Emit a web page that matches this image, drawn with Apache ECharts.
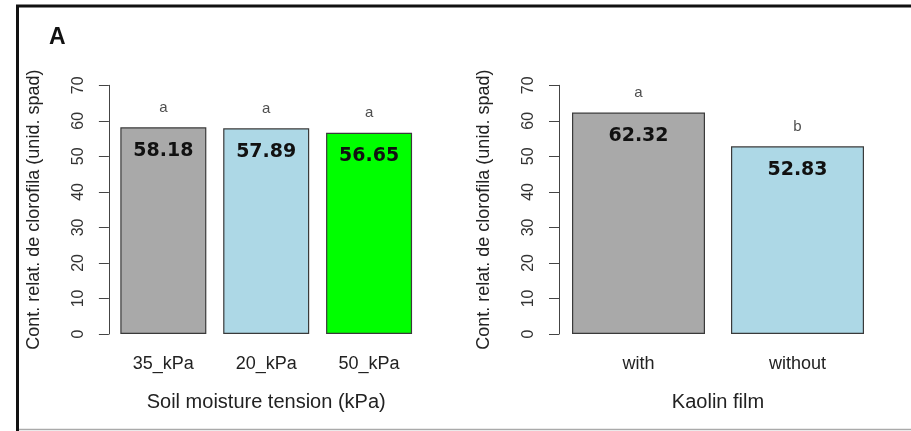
<!DOCTYPE html>
<html>
<head>
<meta charset="utf-8">
<script src="https://cdn.jsdelivr.net/npm/echarts@6/dist/echarts.min.js"></script>
<style>
	html, body { margin: 0; padding: 0; background: #fff; }
	#chart { width: 911px; height: 431px; }
</style>
</head>
<body>
<div id="chart"></div>
<script>
	// panel A, left: soil moisture tension
	var soilCats = ['35_kPa', '20_kPa', '50_kPa']
	var soilMeans = [58.18, 57.89, 56.65]
	var soilLetters = ['a', 'a', 'a']
	// panel A, right: kaolin film
	var kaolinCats = ['with', 'without']
	var kaolinMeans = [62.32, 52.83]
	var kaolinLetters = ['a', 'b']
	// y axis ticks
	var yMin = 0
	var yMax = 70
	var yStep = 10

	var soilColors = ['#a9a9a9', '#add8e6', '#00ff00']
	var kaolinColors = ['#a9a9a9', '#add8e6']

	var yTitle = 'Cont. relat. de clorofila (unid. spad)'
	var font = 'Liberation Sans, Arial, sans-serif'

	function xAxisOf(idx, cats, title) {
		return {
			type: 'category',
			gridIndex: idx,
			data: cats,
			axisLine: { show: false },
			axisTick: { show: false },
			axisLabel: { color: '#222', fontSize: 18, fontFamily: font, margin: 21 },
			name: title,
			nameLocation: 'middle',
			nameGap: 58,
			nameTextStyle: { color: '#222', fontSize: 20, fontFamily: font }
		}
	}

	function yAxisOf(idx, offset) {
		return {
			type: 'value',
			gridIndex: idx,
			min: yMin,
			max: yMax,
			interval: yStep,
			offset: offset,
			axisLine: { show: true, lineStyle: { color: '#444', width: 1 } },
			axisTick: { show: true, length: 10, lineStyle: { color: '#444', width: 1 } },
			splitLine: { show: false },
			axisLabel: { color: '#333', fontSize: 16, fontFamily: font, rotate: 90, margin: 22 },
			name: yTitle,
			nameLocation: 'middle',
			nameGap: 66,
			nameTextStyle: { color: '#222', fontSize: 18, fontFamily: font }
		}
	}

	function barSeries(idx, values, colors, width) {
		return {
			type: 'bar',
			xAxisIndex: idx,
			yAxisIndex: idx,
			barWidth: width,
			data: values.map(function (v, i) {
				return { value: v, itemStyle: { color: colors[i] } }
			}),
			itemStyle: { borderColor: '#3a3a3a', borderWidth: 1.2 },
			label: {
				show: true,
				position: 'insideTop',
				distance: 14,
				color: '#111',
				fontSize: 19,
				fontWeight: 'bold',
				fontFamily: 'DejaVu Sans, sans-serif',
				formatter: function (p) { return p.value.toFixed(2) }
			},
			emphasis: { disabled: true },
			silent: true
		}
	}

	function letterSeries(idx, values, letters) {
		return {
			type: 'scatter',
			xAxisIndex: idx,
			yAxisIndex: idx,
			symbolSize: 0,
			data: values,
			label: {
				show: true,
				position: 'top',
				distance: 12,
				color: '#222',
				fontSize: 15,
				fontFamily: font,
				formatter: function (p) { return letters[p.dataIndex] }
			},
			silent: true
		}
	}

	var chart = echarts.init(document.getElementById('chart'))
	var option = {
		animation: false,
		backgroundColor: '#fff',
		grid: [
			{ left: 111.9, width: 308.6, top: 85.3, bottom: 97 },
			{ left: 559, width: 318, top: 85.3, bottom: 97 }
		],
		xAxis: [
			xAxisOf(0, soilCats, 'Soil moisture tension (kPa)'),
			xAxisOf(1, kaolinCats, 'Kaolin film')
		],
		yAxis: [yAxisOf(0, 3), yAxisOf(1, 0)],
		series: [
			barSeries(0, soilMeans, soilColors, 86),
			letterSeries(0, soilMeans, soilLetters),
			barSeries(1, kaolinMeans, kaolinColors, 133),
			letterSeries(1, kaolinMeans, kaolinLetters)
		],
		graphic: [
			// panel frame
			{ type: 'line', shape: { x1: 16, y1: 6, x2: 911, y2: 6 }, style: { stroke: '#111', lineWidth: 3 } },
			{ type: 'line', shape: { x1: 17.5, y1: 5, x2: 17.5, y2: 431 }, style: { stroke: '#111', lineWidth: 3 } },
			{ type: 'line', shape: { x1: 19, y1: 429.5, x2: 911, y2: 429.5 }, style: { stroke: '#aaa', lineWidth: 1.5 } },
			{
				type: 'text', left: 49, top: 26,
				style: { text: 'A', fontSize: 23, fontWeight: 'bold', fontFamily: font, fill: '#111' }
			}
		]
	}
	chart.setOption(option)
</script>
</body>
</html>
